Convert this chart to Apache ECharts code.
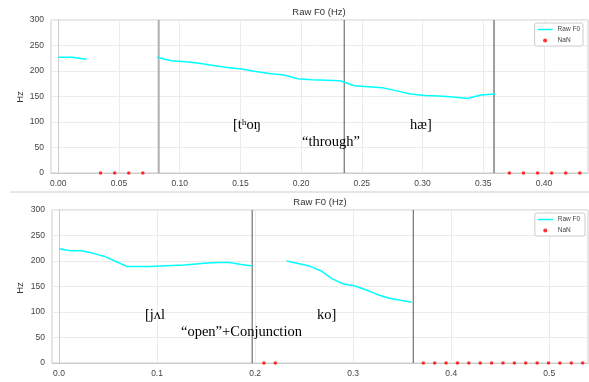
<!DOCTYPE html>
<html>
<head>
<meta charset="utf-8">
<script src="https://cdn.jsdelivr.net/npm/echarts@6/dist/echarts.min.js"></script>
<style>
html,body{margin:0;padding:0;background:#fff;}
#c{width:589px;height:382px;}
</style>
</head>
<body>
<div id="c"></div>
<script>
// ---- data ----
var hop = 0.01161;
// Top panel: "through" — frame indices and F0 values (Hz)
var topSeg1Frames = [0, 1, 2];
var topSeg1F0 = [227, 227, 223];
var topSeg2Frames = [7, 8, 9, 10, 11, 12, 13, 14, 15, 16, 17, 18, 19, 20, 21, 22, 23, 24, 25, 26, 27, 28, 29, 30, 31];
var topSeg2F0 = [227, 220, 218, 215, 211, 207, 204, 199, 195, 192, 185, 183, 182, 181, 171, 169, 167, 161, 155, 152, 151, 149, 146, 153, 155];
var topNaNFrames = [3, 4, 5, 6, 32, 33, 34, 35, 36, 37];
var topBoundaries = [0.0827, 0.2355, 0.3589];
var topXTicks = [0, 0.05, 0.10, 0.15, 0.20, 0.25, 0.30, 0.35, 0.40];

// Bottom panel: "open"+Conjunction
var botSeg1Frames = [0, 1, 2, 3, 4, 5, 6, 7, 8, 9, 10, 11, 12, 13, 14, 15, 16, 17];
var botSeg1F0 = [224, 220, 220, 215, 209, 199, 189, 189, 189, 190, 191, 192, 194, 196, 197, 197, 193, 190];
var botSeg2Frames = [20, 21, 22, 23, 24, 25, 26, 27, 28, 29, 30, 31];
var botSeg2F0 = [200, 195, 190, 181, 165, 155, 151, 143, 134, 127, 123, 119];
var botNaNFrames = [18, 19, 32, 33, 34, 35, 36, 37, 38, 39, 40, 41, 42, 43, 44, 45, 46];
var botBoundaries = [0.197, 0.3613];
var botXTicks = [0, 0.1, 0.2, 0.3, 0.4, 0.5];

var yTicks = [0, 50, 100, 150, 200, 250, 300];
var yRange = [0, 300];

function pts(frames, vals) {
  var out = [];
  for (var i = 0; i < frames.length; i++) out.push([frames[i] * hop, vals[i]]);
  return out;
}
function nanPts(frames) {
  return frames.map(function (f) { return [f * hop, 0]; });
}

var chart = echarts.init(document.getElementById('c'), null, {renderer: 'canvas'});

var gridLine = {show: true, lineStyle: {color: '#ebebeb', width: 1}};
var sans = 'Liberation Sans, Arial, sans-serif';
var labelStyle = {color: '#444', fontSize: 8.5, fontFamily: sans};

function xAxisDef(gi, min, max, ticks, digits) {
  return {
    type: 'value', gridIndex: gi, min: min, max: max,
    axisLine: {show: true, lineStyle: {color: '#cccccc', width: 1}},
    axisTick: {show: false, customValues: ticks},
    axisLabel: Object.assign({customValues: ticks, margin: 6, formatter: function (v) { return v.toFixed(digits); }}, labelStyle),
    splitLine: gridLine
  };
}
function yAxisDef(gi) {
  return {
    type: 'value', gridIndex: gi, min: yRange[0], max: yRange[1], interval: 50,
    axisLine: {show: true, lineStyle: {color: '#cccccc', width: 1}},
    axisTick: {show: false},
    axisLabel: Object.assign({margin: 7}, labelStyle),
    splitLine: gridLine
  };
}
function lineSeries(gi, data, name) {
  return {
    name: name, type: 'line', xAxisIndex: gi, yAxisIndex: gi, data: data,
    showSymbol: false, symbol: 'none', lineStyle: {color: '#00ffff', width: 1.5},
    itemStyle: {color: '#00ffff'}, animation: false, z: 3
  };
}
function vline(gi, x, color, width) {
  return {
    type: 'line', xAxisIndex: gi, yAxisIndex: gi, data: [[x, yRange[0]], [x, yRange[1]]],
    showSymbol: false, symbol: 'none', silent: true, animation: false, z: 2,
    lineStyle: {color: color, width: width}
  };
}
function nanSeries(gi, data, name) {
  return {name: name, type: 'scatter', xAxisIndex: gi, yAxisIndex: gi, data: data,
    symbol: 'circle', symbolSize: 3.5, itemStyle: {color: '#ff0000'}, z: 4, animation: false};
}

var serifFont = 'Liberation Serif, Times New Roman, serif';
function annot(text, x, y) {
  return {type: 'text', x: x, y: y, z: 10,
    style: {text: text, fill: '#000', font: '14.5px ' + serifFont}};
}
function title(cx, y) {
  return {type: 'text', x: cx, y: y, z: 10,
    style: {text: 'Raw F0 (Hz)', fill: '#333', font: '9.5px ' + sans, textAlign: 'center', textVerticalAlign: 'middle'}};
}
function hz(x, y) {
  return {type: 'text', x: x, y: y, rotation: Math.PI / 2, z: 10,
    style: {text: 'Hz', fill: '#333', font: '9.5px ' + sans, textAlign: 'center', textVerticalAlign: 'middle'}};
}
function legendDef(names, right, top) {
  return {
    data: [{name: names[0], icon: 'path://M0,0h16v1.6H0z'}, {name: names[1], icon: 'circle'}],
    orient: 'vertical', right: right, top: top, itemWidth: 15, itemHeight: 4, itemGap: 4,
    symbolKeepAspect: true,
    padding: [3, 3, 2, 3], borderColor: '#cccccc', borderWidth: 1, borderRadius: 2,
    textStyle: {color: '#444', fontSize: 6.5, fontFamily: sans},
    backgroundColor: '#fff'
  };
}

var series = [
  lineSeries(0, pts(topSeg1Frames, topSeg1F0), 'Raw F0'),
  lineSeries(0, pts(topSeg2Frames, topSeg2F0), 'Raw F0'),
  nanSeries(0, nanPts(topNaNFrames), 'NaN'),
  vline(0, topBoundaries[0], '#b0b0b0', 2),
  vline(0, topBoundaries[1], '#555555', 1),
  vline(0, topBoundaries[2], '#808080', 1.5),
  lineSeries(1, pts(botSeg1Frames, botSeg1F0), 'Raw F0 '),
  lineSeries(1, pts(botSeg2Frames, botSeg2F0), 'Raw F0 '),
  nanSeries(1, nanPts(botNaNFrames), 'NaN '),
  vline(1, botBoundaries[0], '#555555', 1),
  vline(1, botBoundaries[1], '#555555', 1)
];

var option = {
  animation: false,
  backgroundColor: '#fff',
  grid: [
    {left: 51, top: 20, right: 1, height: 153, show: true, borderColor: '#cccccc', borderWidth: 1, backgroundColor: 'transparent'},
    {left: 52, top: 210, right: 1, height: 153, show: true, borderColor: '#cccccc', borderWidth: 1, backgroundColor: 'transparent'}
  ],
  xAxis: [
    xAxisDef(0, -0.0060, 0.4363, topXTicks, 2),
    xAxisDef(1, -0.00714, 0.5395, botXTicks, 1)
  ],
  yAxis: [yAxisDef(0), yAxisDef(1)],
  legend: [legendDef(['Raw F0', 'NaN'], 6, 23), legendDef(['Raw F0 ', 'NaN '], 4, 213)],
  series: series,
  graphic: [
    title(319, 12),
    title(320, 202),
    hz(20, 97),
    hz(20, 288),
    {type: 'line', shape: {x1: 10, y1: 192, x2: 589, y2: 192}, style: {stroke: '#cccccc', lineWidth: 1}, z: 1},
    annot('[t\u02B0o\u014B', 233, 118),
    annot('\u201Cthrough\u201D', 302, 135),
    annot('h\u00E6]', 410, 118),
    annot('[j\u028Cl', 145, 308),
    annot('\u201Copen\u201D+Conjunction', 181, 325),
    annot('ko]', 317, 308)
  ]
};
chart.setOption(option);
</script>
</body>
</html>
